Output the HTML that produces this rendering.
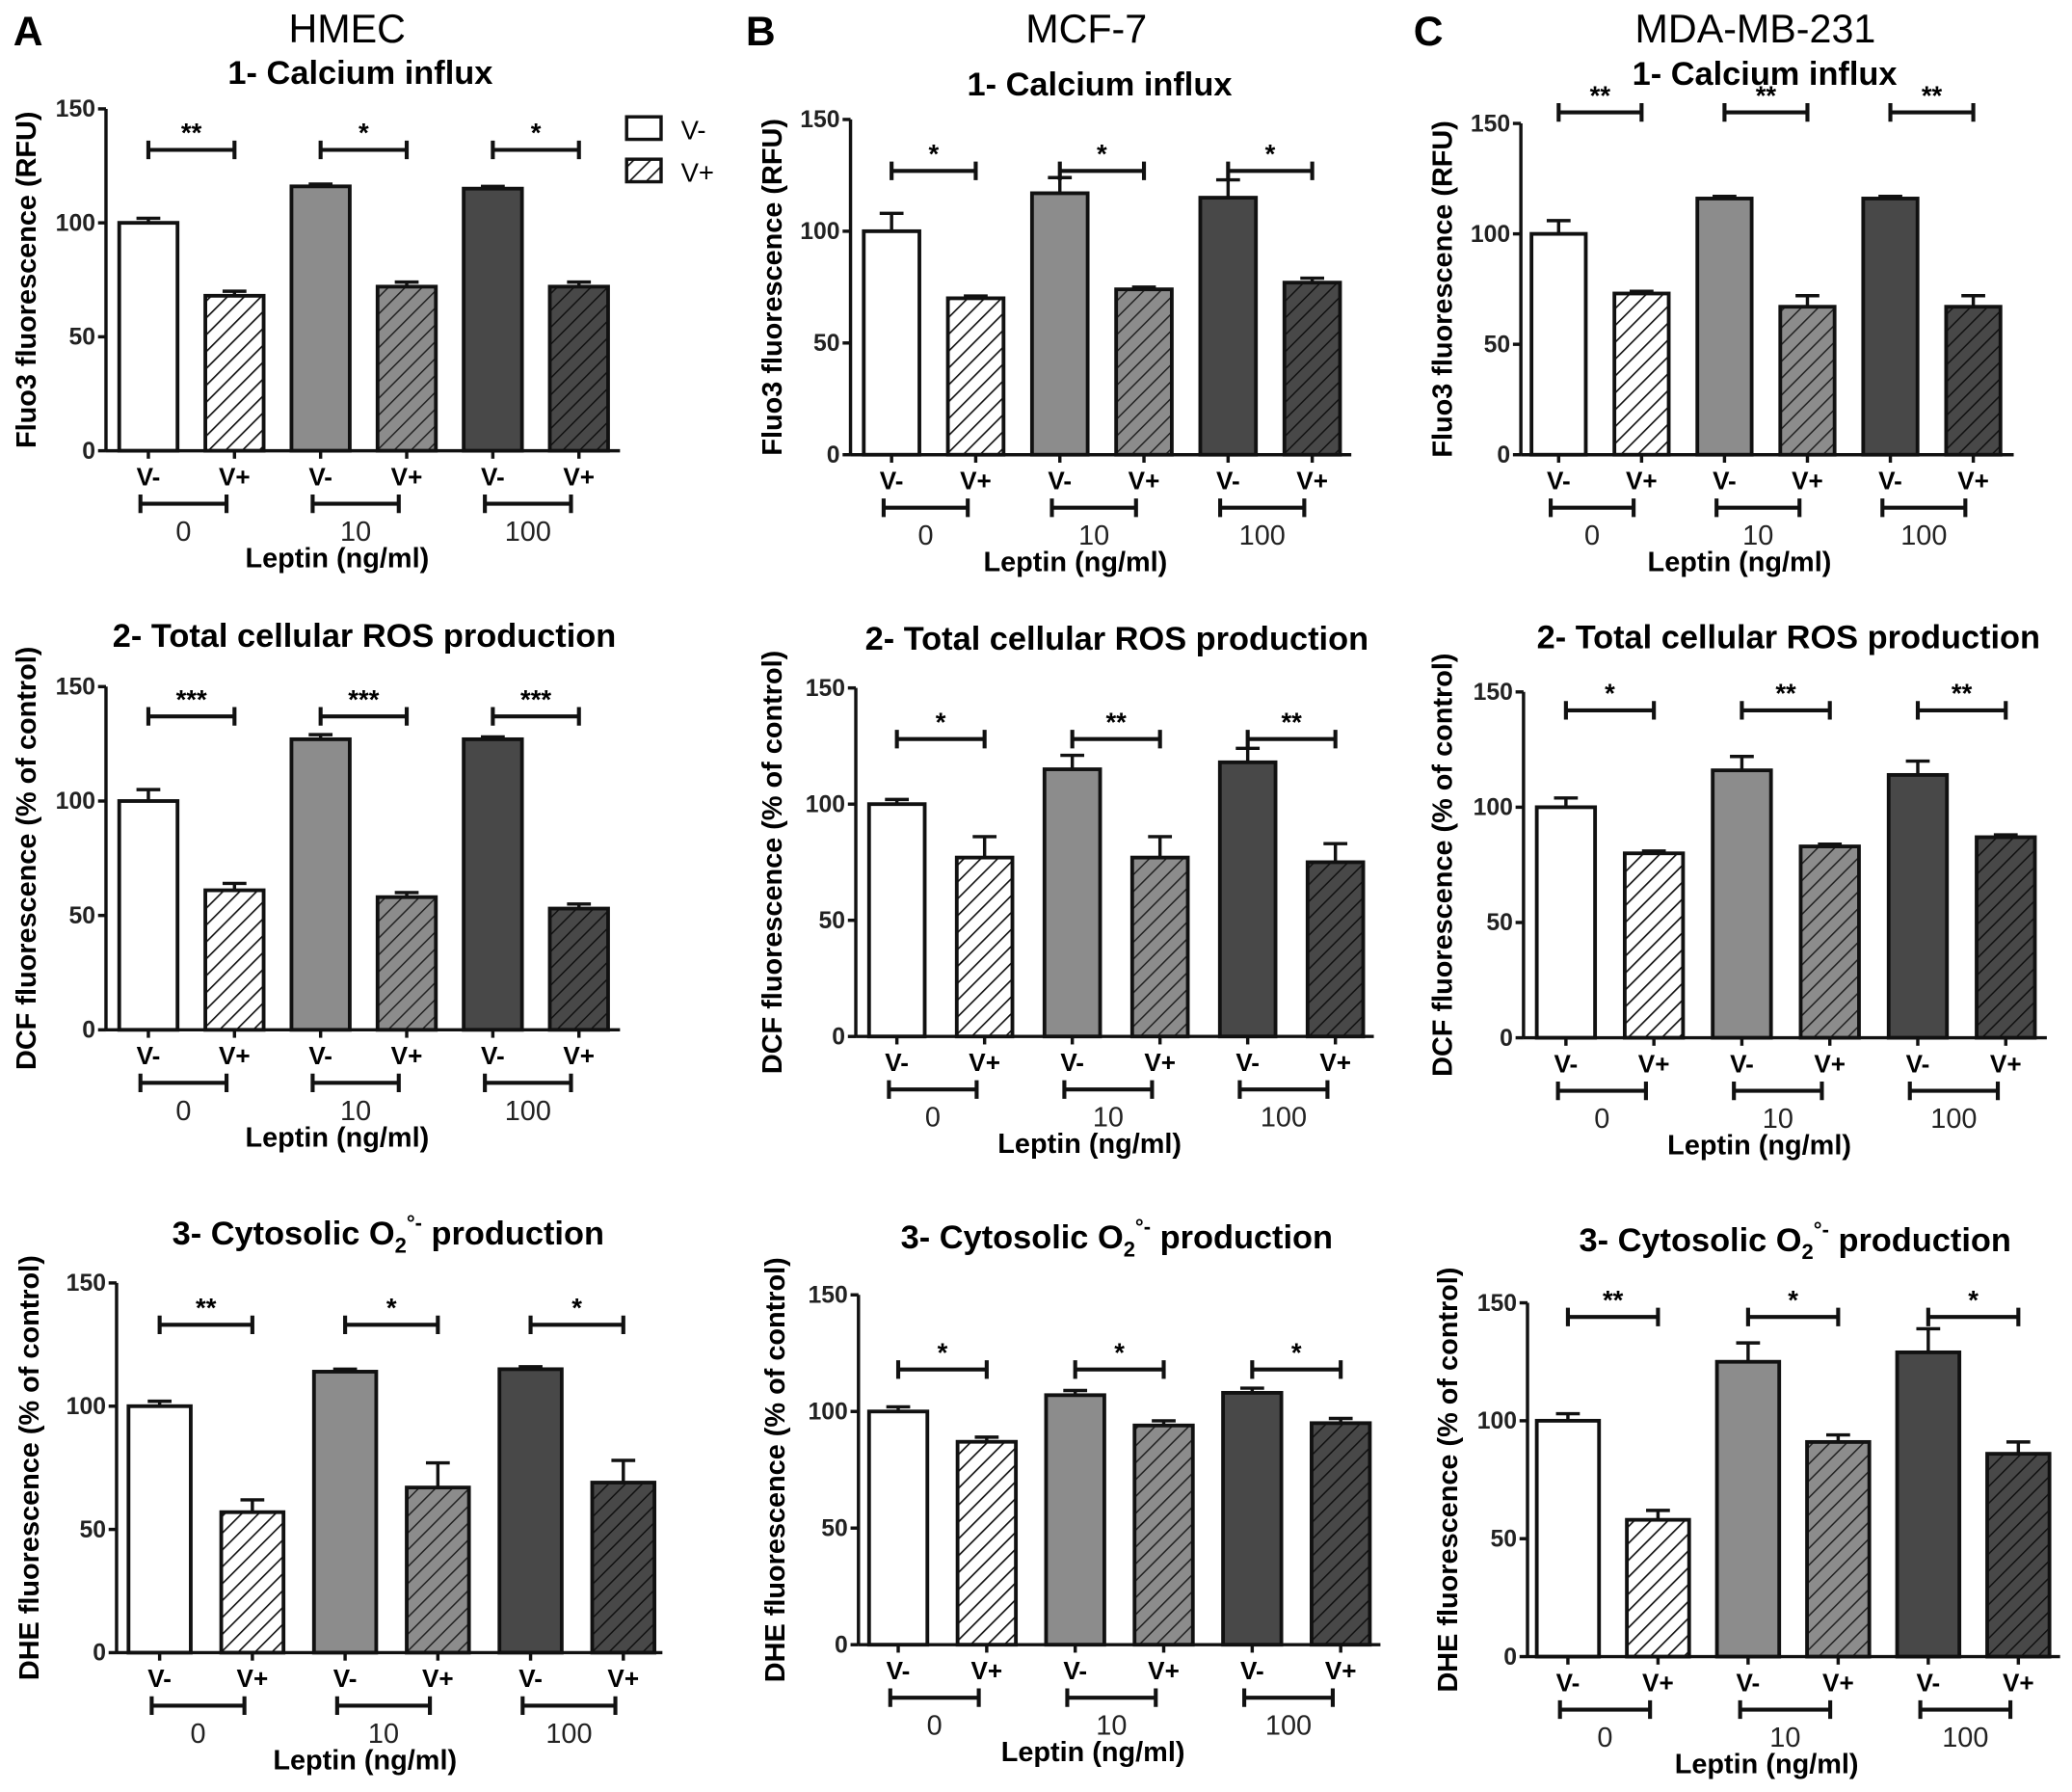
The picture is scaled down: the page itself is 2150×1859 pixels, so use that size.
<!DOCTYPE html>
<html><head><meta charset="utf-8"><style>
html,body{margin:0;padding:0;background:#fff}
svg{display:block;font-family:"Liberation Sans",Arial,sans-serif}
</style></head><body>
<svg id="fig" width="2150" height="1859" viewBox="0 0 1564 1352" xmlns="http://www.w3.org/2000/svg">
<defs>
<pattern id="hw" patternUnits="userSpaceOnUse" width="9" height="9" patternTransform="rotate(45)"><rect width="9" height="9" fill="#fff"/><line x1="0" y1="0" x2="0" y2="9" stroke="#111" stroke-width="2.4"/></pattern>
<pattern id="hg" patternUnits="userSpaceOnUse" width="9" height="9" patternTransform="rotate(45)"><rect width="9" height="9" fill="#8c8c8c"/><line x1="0" y1="0" x2="0" y2="9" stroke="#222" stroke-width="2.2"/></pattern>
<pattern id="hd" patternUnits="userSpaceOnUse" width="9" height="9" patternTransform="rotate(45)"><rect width="9" height="9" fill="#484848"/><line x1="0" y1="0" x2="0" y2="9" stroke="#111" stroke-width="2.2"/></pattern>
</defs>
<text x="10" y="34" font-size="31" font-weight="bold">A</text>
<text x="563" y="34" font-size="31" font-weight="bold">B</text>
<text x="1067" y="34" font-size="31" font-weight="bold">C</text>
<text x="262" y="32" font-size="30" text-anchor="middle">HMEC</text>
<text x="820" y="32" font-size="30" text-anchor="middle">MCF-7</text>
<text x="1325" y="32" font-size="30" text-anchor="middle">MDA-MB-231</text>
<g>
<rect x="473" y="88" width="26" height="17" fill="#fff" stroke="#111" stroke-width="2.5"/>
<text x="514" y="105" font-size="20">V-</text>
<rect x="473" y="120" width="26" height="17" fill="url(#hw)" stroke="#111" stroke-width="2.5"/>
<text x="514" y="137" font-size="20">V+</text>
</g>
</svg>
<script>
const groupLabels = ["0","10","100"];
const barLabels = ["V-","V+","V-","V+","V-","V+"];
const yTicks = [0,50,100,150];
const a1Values=[100,68,116,72,115,72], a1Errors=[2,2,1,2,1,2], a1Sig=["**","*","*"];
const a2Values=[100,61,127,58,127,53], a2Errors=[5,3,2,2,1,2], a2Sig=["***","***","***"];
const a3Values=[100,57,114,67,115,69], a3Errors=[2,5,1,10,1,9], a3Sig=["**","*","*"];
const b1Values=[100,70,117,74,115,77], b1Errors=[8,1,7,1,8,2], b1Sig=["*","*","*"];
const b2Values=[100,77,115,77,118,75], b2Errors=[2,9,6,9,6,8], b2Sig=["*","**","**"];
const b3Values=[100,87,107,94,108,95], b3Errors=[2,2,2,2,2,2], b3Sig=["*","*","*"];
const c1Values=[100,73,116,67,116,67], c1Errors=[6,1,1,5,1,5], c1Sig=["**","**","**"];
const c2Values=[100,80,116,83,114,87], c2Errors=[4,1,6,1,6,1], c2Sig=["*","**","**"];
const c3Values=[100,58,125,91,129,86], c3Errors=[3,4,8,3,10,5], c3Sig=["**","*","*"];
const sigLevels=[132,137,133,127,128,118,155,142,144];

const panels=[
 {id:"a1",v:a1Values,e:a1Errors,s:a1Sig,ax:80,y0:340,y150:82,x0:90,bw:44,st:65,end:468,title:"1- Calcium influx",tx:272,ty:63,yl:"Fluo3  fluorescence  (RFU)",ylx:20},
 {id:"a2",v:a2Values,e:a2Errors,s:a2Sig,ax:80,y0:777,y150:518,x0:90,bw:44,st:65,end:468,title:"2- Total cellular ROS production",tx:275,ty:488,yl:"DCF fluorescence (% of control)",ylx:20},
 {id:"a3",v:a3Values,e:a3Errors,s:a3Sig,ax:88,y0:1247,y150:968,x0:97,bw:47,st:70,end:500,title:"3- Cytosolic O",tx:293,ty:939,yl:"DHE  fluorescence  (% of control)",ylx:22},
 {id:"b1",v:b1Values,e:b1Errors,s:b1Sig,ax:642,y0:343,y150:90,x0:652,bw:42,st:63.5,end:1020,title:"1- Calcium influx",tx:830,ty:72,yl:"Fluo3 fluorescence (RFU)",ylx:583},
 {id:"b2",v:b2Values,e:b2Errors,s:b2Sig,ax:646,y0:782,y150:519,x0:656,bw:42,st:66.2,end:1037,title:"2- Total cellular ROS production",tx:843,ty:490,yl:"DCF fluorescence (% of control)",ylx:583},
 {id:"b3",v:b3Values,e:b3Errors,s:b3Sig,ax:648,y0:1241,y150:977,x0:656,bw:44,st:66.8,end:1042,title:"3- Cytosolic O",tx:843,ty:942,yl:"DHE  fluorescence (% of control)",ylx:585},
 {id:"c1",v:c1Values,e:c1Errors,s:c1Sig,ax:1148,y0:343,y150:93,x0:1156,bw:41,st:62.6,end:1520,title:"1- Calcium influx",tx:1332,ty:64,yl:"Fluo3 fluorescence (RFU)",ylx:1089},
 {id:"c2",v:c2Values,e:c2Errors,s:c2Sig,ax:1150,y0:783,y150:522,x0:1160,bw:44,st:66.4,end:1545,title:"2- Total cellular ROS production",tx:1350,ty:489,yl:"DCF  fluorescence  (% of control)",ylx:1089},
 {id:"c3",v:c3Values,e:c3Errors,s:c3Sig,ax:1153,y0:1250,y150:983,x0:1160,bw:47,st:68,end:1555,title:"3- Cytosolic O",tx:1355,ty:944,yl:"DHE  fluorescence  (% of control)",ylx:1093}
];
const fills=["#fff","url(#hw)","#8c8c8c","url(#hg)","#484848","url(#hd)"];
const NS="http://www.w3.org/2000/svg";
const svg=document.getElementById("fig");
function mk(tag,attrs,parent){const el=document.createElementNS(NS,tag);for(const k in attrs)el.setAttribute(k,attrs[k]);(parent||svg).appendChild(el);return el;}
panels.forEach((p,pi)=>{
 const g=mk("g",{});
 
 
 const y=v=>p.y0-(v/150)*(p.y0-p.y150);
 const bx=i=>p.x0+i*p.st;
 const cx=i=>bx(i)+p.bw/2;
 const t=mk("text",{x:p.tx,y:p.ty,"font-size":25,"font-weight":"bold","text-anchor":"middle"},g);
 
 
 if(p.title==="3- Cytosolic O"){t.textContent="3- Cytosolic O";const s1=mk("tspan",{"font-size":16,dy:6},t);s1.textContent="2";const s2=mk("tspan",{"font-size":16,dy:-17},t);s2.textContent="°-";const s3=mk("tspan",{dy:11},t);s3.textContent=" production";}
 else t.textContent=p.title;
 const ylc=(p.y0+p.y150)/2;
 const yl=mk("text",{x:p.ylx+7,y:ylc,"font-size":21,"font-weight":"bold","text-anchor":"middle",transform:`rotate(-90 ${p.ylx+7} ${ylc})`},g);
 
 
 yl.textContent=p.yl;
 const ya=mk("line",{x1:p.ax,y1:p.y150,x2:p.ax,y2:p.y0,stroke:"#111","stroke-width":2.5},g);
 
 
 yTicks.forEach(v=>{
  mk("line",{x1:p.ax-6,x2:p.ax,y1:y(v),y2:y(v),stroke:"#111","stroke-width":2.5},g);
  const tl=mk("text",{x:p.ax-8,y:y(v)+6,"font-size":18,"font-weight":"bold","text-anchor":"end",fill:"#222"},g);
  
  
  tl.textContent=v;
 });
 p.v.forEach((v,i)=>{
  const top=y(v+p.e[i]);
  mk("line",{x1:cx(i),x2:cx(i),y1:y(v),y2:top,stroke:"#111","stroke-width":2.5},g);
  mk("line",{x1:cx(i)-9,x2:cx(i)+9,y1:top,y2:top,stroke:"#111","stroke-width":2.5},g);
  const r=mk("rect",{x:bx(i),y:y(v),width:p.bw,height:p.y0-y(v),fill:fills[i],stroke:"#111","stroke-width":2.8},g);
  
  
  mk("line",{x1:cx(i),x2:cx(i),y1:p.y0,y2:p.y0+6,stroke:"#111","stroke-width":2.5},g);
  const bl=mk("text",{x:cx(i),y:p.y0+26,"font-size":19,"font-weight":"bold","text-anchor":"middle"},g);
  
  
  bl.textContent=barLabels[i];
 });
 const xa=mk("line",{x1:p.ax,y1:p.y0,x2:p.end,y2:p.y0,stroke:"#111","stroke-width":2.5},g);
 
 
 const sy=y(sigLevels[pi]);
 const by=p.y0+40;
 for(let k=0;k<3;k++){
  const a=cx(2*k), b=cx(2*k+1);
  mk("path",{d:`M${a} ${sy-7}V${sy+7}M${a} ${sy}H${b}M${b} ${sy-7}V${sy+7}`,stroke:"#111","stroke-width":3,fill:"none"},g);
  const st=mk("text",{x:(a+b)/2,y:sy-6,"font-size":20,"font-weight":"bold","text-anchor":"middle"},g);
  
  
  st.textContent=p.s[k];
  const ga=a-6,gb=b-6;
  mk("path",{d:`M${ga} ${by-7}V${by+7}M${ga} ${by}H${gb}M${gb} ${by-7}V${by+7}`,stroke:"#111","stroke-width":3,fill:"none"},g);
  const gl=mk("text",{x:(ga+gb)/2,y:by+28,"font-size":21,"text-anchor":"middle",fill:"#222"},g);
  
  
  gl.textContent=groupLabels[k];
 }
 const xl=mk("text",{x:(cx(0)+cx(5))/2-20,y:p.y0+88,"font-size":21,"font-weight":"bold","text-anchor":"middle"},g);
 
 
 xl.textContent="Leptin (ng/ml)";
});
</script>
</body></html>
